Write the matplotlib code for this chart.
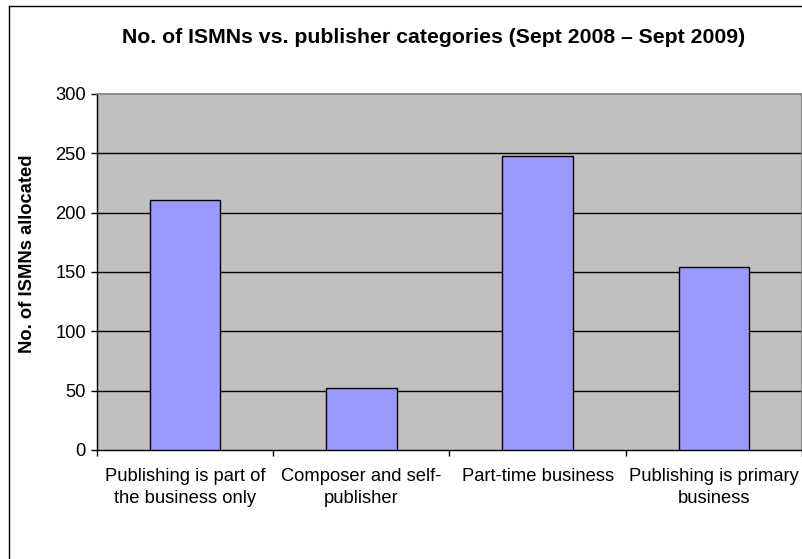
import matplotlib
matplotlib.use("Agg")
import matplotlib.pyplot as plt
from matplotlib.lines import Line2D

plt.rcParams["font.family"] = ["Liberation Sans", "DejaVu Sans"]

categories = [
    "Publishing is part of\nthe business only",
    "Composer and self-\npublisher",
    "Part-time business",
    "Publishing is primary\nbusiness",
]
ismns = [211, 52, 248, 154]
y_ticks = [0, 50, 100, 150, 200, 250, 300]

W, H = 803, 559
fig = plt.figure(figsize=(W / 100, H / 100), dpi=100)
fig.patch.set_facecolor("white")

# plot area in pixel coords
left, top, right, bottom = 97, 94, 802, 450
ax = fig.add_axes([left / W, 1 - bottom / H, (right - left) / W, (bottom - top) / H])
ax.set_facecolor("#c0c0c0")

x = list(range(len(categories)))
ax.bar(x, ismns, width=0.4, color="#9999ff", edgecolor="black", linewidth=1.0, zorder=3)

ax.set_xlim(-0.5, len(categories) - 0.5)
ax.set_ylim(0, 300)
ax.set_yticks(y_ticks)
ax.set_yticklabels([str(v) for v in y_ticks])
for v in y_ticks[1:-1]:
    ax.axhline(v, color="black", linewidth=1.0, zorder=1)

ax.set_xticks(x)
ax.set_xticklabels(categories, multialignment="center", linespacing=1.38)
ax.set_xticks([i - 0.5 for i in range(len(categories) + 1)], minor=True)
ax.tick_params(axis="x", which="major", length=0, pad=13, labelsize=13.2)
ax.tick_params(axis="x", which="minor", length=4, width=1, direction="out", color="black")
ax.tick_params(axis="y", length=4, width=1, direction="out", pad=4, labelsize=13.2, color="black")

for side in ["left", "bottom"]:
    ax.spines[side].set_color("black")
    ax.spines[side].set_linewidth(1.0)
for side in ["top", "right"]:
    ax.spines[side].set_color("#808080")
    ax.spines[side].set_linewidth(1.2)

fig.text(434 / W, 1 - 42.7 / H, "No. of ISMNs vs. publisher categories (Sept 2008 \u2013 Sept 2009)",
         ha="center", va="baseline", fontsize=15.3, fontweight="bold")
fig.text(31.7 / W, 1 - 254 / H, "No. of ISMNs allocated", rotation=90, rotation_mode="anchor",
         ha="center", va="baseline", fontsize=13.2, fontweight="bold")

# chart area border (runs off the right and bottom edges)
fig.add_artist(Line2D([8.5 / W, 8.5 / W], [0, 1 - 6 / H], transform=fig.transFigure,
                      color="black", linewidth=1.0))
fig.add_artist(Line2D([8.5 / W, 1], [1 - 6 / H, 1 - 6 / H], transform=fig.transFigure,
                      color="black", linewidth=1.0))

fig.savefig("out.png", dpi=100)
